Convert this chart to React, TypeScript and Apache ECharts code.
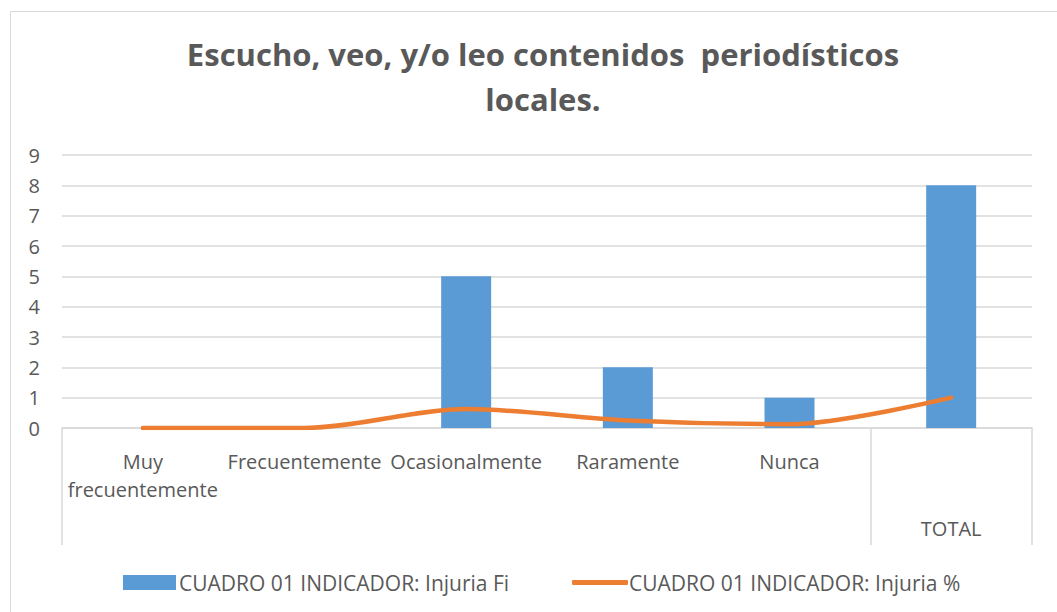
import React, { useEffect, useRef } from "react";
import * as echarts from "echarts";

const categories = ["Muy frecuentemente", "Frecuentemente", "Ocasionalmente", "Raramente", "Nunca", ""];
const groupLabels = ["", "", "", "", "", "TOTAL"];
const fiValues = [0, 0, 5, 2, 1, 8];
const pctValues = [0, 0, 0.625, 0.25, 0.125, 1];
const yTicks = [0, 1, 2, 3, 4, 5, 6, 7, 8, 9];
const seriesNames = ["CUADRO 01 INDICADOR: Injuria Fi", "CUADRO 01 INDICADOR: Injuria %"];
const titleText = "Escucho, veo, y/o leo contenidos  periodísticos\nlocales.";

const FONT = "'Open Sans', sans-serif";
const TEXT = "#595959";
const GRID = "#d9d9d9";

export default function App() {
  const ref = useRef<HTMLDivElement>(null);
  useEffect(() => {
    if (!ref.current) return;
    const chart = echarts.init(ref.current, undefined, { renderer: "svg" });
    chart.setOption({
      animation: false,
      backgroundColor: "#ffffff",
      textStyle: { fontFamily: FONT },
      title: {
        text: titleText,
        left: 538,
        textAlign: "center",
        top: 26,
        textStyle: {
          fontFamily: FONT,
          fontSize: 31,
          fontWeight: "bold",
          color: TEXT,
          lineHeight: 45,
        },
      },
      graphic: [
        {
          type: "rect",
          shape: { x: 10.5, y: 11.5, width: 1100, height: 700 },
          style: { fill: "none", stroke: GRID, lineWidth: 1 },
          silent: true,
        },
      ],
      legend: [
        {
          data: [{ name: seriesNames[0], icon: "rect" }],
          left: 118,
          top: 567,
          itemWidth: 53,
          itemHeight: 15,
          textStyle: { fontFamily: FONT, fontSize: 21, color: TEXT, padding: [0, 0, 0, -2] },
        },
        {
          data: [{ name: seriesNames[1], icon: "roundRect" }],
          left: 567,
          top: 567,
          itemWidth: 56,
          itemHeight: 5,
          textStyle: { fontFamily: FONT, fontSize: 21, color: TEXT, padding: [0, 0, 0, -4] },
        },
      ],
      grid: { left: 62, right: 25, top: 155, bottom: 184, containLabel: false },
      xAxis: [
        {
          type: "category",
          data: categories,
          position: "bottom",
          axisLine: { show: true, lineStyle: { color: GRID, width: 1.5 } },
          axisTick: {
            show: true,
            length: 117,
            interval: (i: number) => i === 0 || i === 5 || i === 6,
            lineStyle: { color: GRID, width: 1.5 },
          },
          axisLabel: {
            interval: 0,
            margin: 19,
            fontFamily: FONT,
            fontSize: 20,
            color: TEXT,
            lineHeight: 28,
            formatter: (v: string) => v.replace("Muy ", "Muy\n"),
          },
        },
        {
          type: "category",
          data: groupLabels,
          position: "bottom",
          offset: 0,
          axisLine: { show: false },
          axisTick: { show: false },
          axisLabel: { interval: 0, margin: 90, fontFamily: FONT, fontSize: 20, color: TEXT },
        },
      ],
      yAxis: {
        type: "value",
        min: 0,
        max: 9,
        interval: 1,
        axisLine: { show: false },
        axisTick: { show: false },
        splitLine: { lineStyle: { color: GRID, width: 1.5 } },
        axisLabel: {
          margin: 22,
          fontFamily: FONT,
          fontSize: 20,
          color: TEXT,
          formatter: (v: number) => (yTicks.includes(v) ? String(v) : ""),
        },
      },
      series: [
        {
          name: seriesNames[0],
          type: "bar",
          data: fiValues,
          barWidth: 50,
          itemStyle: { color: "#5b9bd5" },
        },
        {
          name: seriesNames[1],
          type: "line",
          data: pctValues,
          smooth: 0.3,
          showSymbol: false,
          symbol: "none",
          lineStyle: { color: "#ed7d31", width: 4.5, cap: "round" },
          itemStyle: { color: "#ed7d31" },
        },
      ],
    });
    return () => chart.dispose();
  }, []);
  return (
    <div
      ref={ref}
      style={{ position: "absolute", left: 0, top: 0, width: 1057, height: 612 }}
    />
  );
}
